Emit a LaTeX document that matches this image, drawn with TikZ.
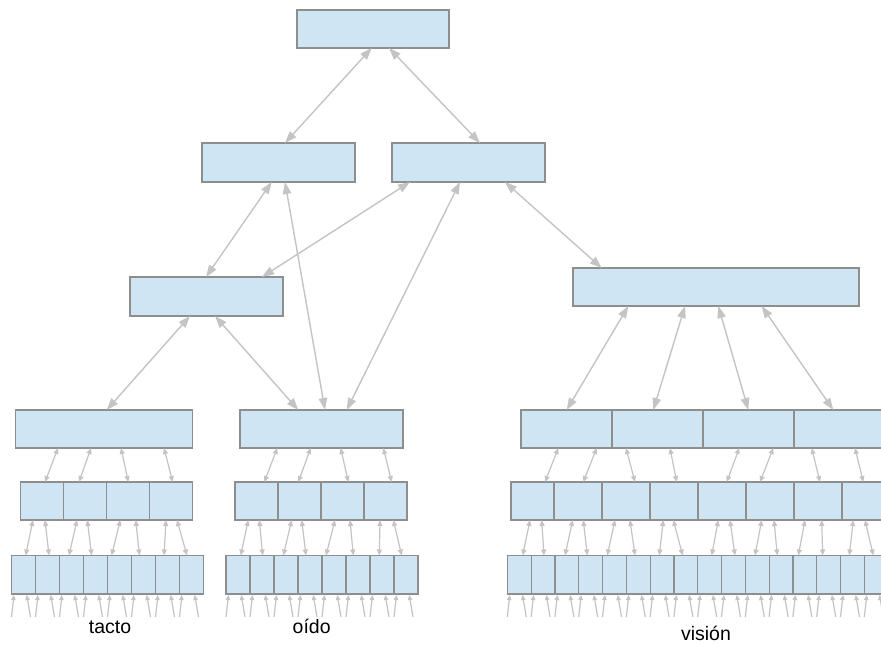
\documentclass[tikz,border=0pt]{standalone}
\usepackage{fontspec}
\setmainfont{Liberation Sans}
\usetikzlibrary{arrows.meta,calc}
\definecolor{boxfill}{HTML}{D0E5F3}
\definecolor{boxline}{HTML}{8E8E8E}
\definecolor{linkgray}{HTML}{C4C4C4}
\begin{document}
\begin{tikzpicture}[x=1pt,y=-1pt,
  box/.style={draw=boxline, fill=boxfill, line width=1.2pt, inner sep=0pt,
    outer sep=0pt, anchor=north west},
  link/.style={draw=linkgray, line width=1.4pt,
    {Triangle[length=12pt,width=8.5pt]}-{Triangle[length=12pt,width=8.5pt]}},
  sublink/.style={draw=linkgray, line width=1.2pt,
    {Triangle[length=6pt,width=5pt]}-{Triangle[length=6pt,width=5pt]}},
  inlink/.style={draw=linkgray, line width=1.2pt, -{Triangle[length=5pt,width=4.5pt]}},
  lbl/.style={font=\fontsize{19.5}{23}\selectfont, anchor=base, inner sep=0pt}]

\clip (0,0) rectangle (881,646);
\fill[white] (0,0) rectangle (881,646);

% upper hierarchy
\node[box, minimum width=152, minimum height=38] (A)  at (297,10)  {};
\node[box, minimum width=153, minimum height=39] (B1) at (202,143) {};
\node[box, minimum width=153, minimum height=39] (B2) at (392,143) {};
\node[box, minimum width=153, minimum height=39] (C)  at (130,277) {};
\node[box, minimum width=286, minimum height=38] (V)  at (573,268) {};

% first sensory level
\node[box, minimum width=177, minimum height=38] (T1) at (15.5,410) {};
\node[box, minimum width=163, minimum height=38] (O1) at (240,410) {};
\foreach \i in {1,...,4}
  \node[box, minimum width=91, minimum height=38] (v1-\i) at ({521+91*(\i-1)},410) {};

% second sensory level
\foreach \i in {1,...,4}
  \node[box, minimum width=43, minimum height=38] (t2-\i) at ({20.5+43*(\i-1)},482) {};
\foreach \i in {1,...,4}
  \node[box, minimum width=43, minimum height=38] (o2-\i) at ({235+43*(\i-1)},482) {};
\node[box, minimum width=43, minimum height=38] (v2-1) at (511,482) {};
\foreach \i in {2,...,8}
  \node[box, minimum width=48, minimum height=38] (v2-\i) at ({554+48*(\i-2)},482) {};

% receptor level
\foreach \i in {1,...,8}
  \node[box, minimum width=24, minimum height=38.5] (t3-\i) at ({11.5+24*(\i-1)},555.5) {};
\foreach \i in {1,...,8}
  \node[box, minimum width=24, minimum height=38.5] (o3-\i) at ({226+24*(\i-1)},555.5) {};
\foreach \i in {1,...,16}
  \node[box, minimum width=23.8, minimum height=38.5] (v3-\i) at ({507.3+23.8*(\i-1)},555.5) {};

% links between upper boxes
\draw[link] (A.south -| 371.7,0) -- (B1.north -| 285,0);
\draw[link] (A.south -| 389,0) -- (B2.north -| 480,0);
\draw[link] (B1.south -| 271.7,0) -- (C.north -| 206,0);
\draw[link] (B2.south -| 410,0) -- (C.north -| 262,0);
\draw[link] (B1.south -| 285,0) -- (O1.north -| 325,0);
\draw[link] (B2.south -| 460,0) -- (O1.north -| 346.7,0);
\draw[link] (B2.south -| 505,0) -- (V.north -| 601.7,0);
\draw[link] (C.south -| 190,0) -- (T1.north -| 106.7,0);
\draw[link] (C.south -| 215,0) -- (O1.north -| 298.3,0);
\foreach \c/\a/\b in {1/628.3/566.7, 2/685/653.3, 3/718.3/748.3, 4/761.7/833.3}
  \draw[link] (V.south -| \a,0) -- (v1-\c.north -| \b,0);

% first to second sensory level
\foreach \c/\a/\b in {1/58/45, 2/91/79, 3/121/128.3, 4/164/172.7}
  \draw[sublink] (T1.south -| \a,0) -- (t2-\c.north -| \b,0);
\foreach \c/\a/\b in {1/277.3/264.3, 2/310.7/298.3, 3/340.7/348.3, 4/383.3/391.7}
  \draw[sublink] (O1.south -| \a,0) -- (o2-\c.north -| \b,0);
\foreach \p/\c/\a/\b in {1/1/558.3/545, 1/2/596.7/583.3, 2/3/626/635, 2/4/670/676.7,
    3/5/739.3/726.7, 3/6/773.3/760, 4/7/811.7/820, 4/8/855/863.3}
  \draw[sublink] (v1-\p.south -| \a,0) -- (v2-\c.north -| \b,0);

% second sensory level to receptors
\foreach \p/\c/\a/\b in {1/1/33/25.6, 1/2/45/49, 2/3/77/69, 2/4/87.3/91.6,
    3/5/120.3/111.6, 3/6/135.8/139.4, 4/7/166/164, 4/8/177/187}
  \draw[sublink] (t2-\p.south -| \a,0) -- (t3-\c.north -| \b,0);
\foreach \p/\c/\a/\b in {1/1/248.3/240.7, 1/2/259.3/262.7, 2/3/291.7/283.3, 2/4/301.7/306,
    3/5/335/326, 3/6/350/353.3, 4/7/380/379.3, 4/8/393.3/401.7}
  \draw[sublink] (o2-\p.south -| \a,0) -- (o3-\c.north -| \b,0);
\foreach \p/\c/\a/\b in {1/1/530/522.7, 1/2/541.7/544, 2/3/572.7/565, 2/4/583.3/587.3,
    3/5/615/607.3, 3/6/630/635, 4/7/663.3/659.3, 4/8/673.3/682.7,
    5/9/718.3/711.7, 5/10/730/735, 6/11/761.7/755, 6/12/774/777.3,
    7/13/805/798.3, 7/14/821.7/822.7, 8/15/853.3/849.3, 8/16/865/873.3}
  \draw[sublink] (v2-\p.south -| \a,0) -- (v3-\c.north -| \b,0);

% incoming signals under each receptor
\foreach \g/\m in {t/8, o/8, v/16}
  \foreach \i in {1,...,\m} {
    \draw[inlink] ($(\g3-\i.south west)+(0,23)$) -- ($(\g3-\i.south west)+(2.5,1)$);
    \draw[inlink] ($(\g3-\i.south west)+(19,23)$) -- ($(\g3-\i.south west)+(15.2,1)$);
  }

% sense labels
\node[lbl] (tacto)  at (110,633.3) {tacto};
\node[lbl] (oido)   at (311.7,633) {oído};
\node[lbl] (vision) at (706,640.7) {visión};
\end{tikzpicture}
\end{document}
